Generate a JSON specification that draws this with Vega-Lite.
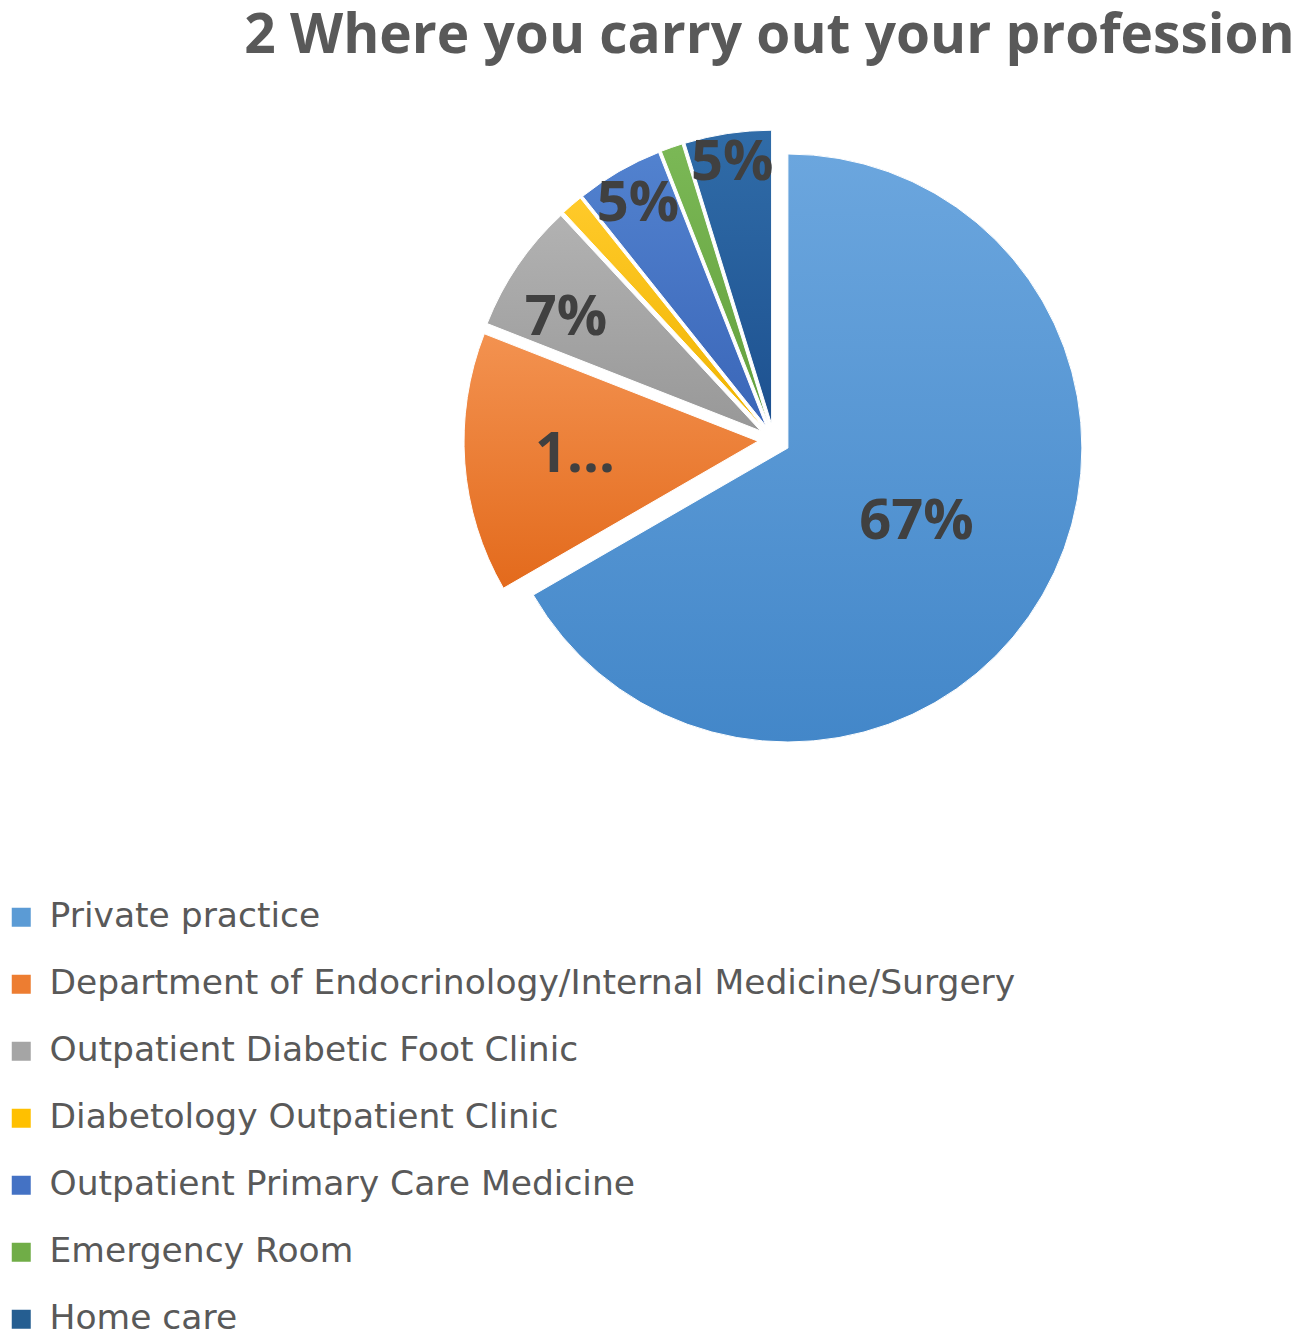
{
  "$schema": "https://vega.github.io/schema/vega-lite/v6.json",
  "autosize": "none",
  "width": 1313,
  "height": 720,
  "padding": {"left": 0, "top": 80, "right": 0, "bottom": 543},
  "background": "white",
  "title": {
    "text": "2 Where you carry out your profession",
    "font": "Open Sans",
    "fontSize": 55,
    "fontWeight": "bold",
    "color": "#595959",
    "anchor": "middle",
    "dx": 113,
    "baseline": "bottom",
    "offset": -40
  },
  "config": {"view": {"stroke": null}},
  "data": {
    "values": [
      {"cat": "Private practice", "n": 56, "rank": 1, "label": "67%"},
      {"cat": "Department of Endocrinology/Internal Medicine/Surgery", "n": 12, "rank": 2, "label": "1..."},
      {"cat": "Outpatient Diabetic Foot Clinic", "n": 6, "rank": 3, "label": "7%"},
      {"cat": "Diabetology Outpatient Clinic", "n": 1, "rank": 4, "label": "1%"},
      {"cat": "Outpatient Primary Care Medicine", "n": 4, "rank": 5, "label": "5%"},
      {"cat": "Emergency Room", "n": 1, "rank": 6, "label": "1%"},
      {"cat": "Home care", "n": 4, "rank": 7, "label": "5%"}
    ]
  },
  "encoding": {
    "theta": {"field": "n", "type": "quantitative", "stack": true},
    "order": {"field": "rank", "type": "quantitative"},
    "detail": {"field": "cat", "type": "nominal"}
  },
  "layer": [
    {
      "mark": {"type": "arc", "outerRadius": 294, "opacity": 0, "xOffset": 117.5},
      "encoding": {
        "color": {
          "field": "cat",
          "type": "nominal",
          "scale": {
            "domain": ["Private practice", "Department of Endocrinology/Internal Medicine/Surgery", "Outpatient Diabetic Foot Clinic", "Diabetology Outpatient Clinic", "Outpatient Primary Care Medicine", "Emergency Room", "Home care"],
            "range": ["#5B9BD5", "#ED7D31", "#A5A5A5", "#FFC000", "#4472C4", "#70AD47", "#255E91"]
          },
          "legend": {
            "title": null,
            "orient": "none",
            "legendX": 4,
            "legendY": 820,
            "symbolType": "square",
            "symbolSize": 361,
            "symbolOpacity": 1,
            "symbolStrokeWidth": 0,
            "labelFont": "DejaVu Sans",
            "labelFontSize": 34.5,
            "labelColor": "#595959",
            "labelOffset": 11,
            "labelLimit": 1300,
            "rowPadding": 32,
            "padding": 0,
            "offset": 0
          }
        }
      }
    },
    {
      "mark": {"type": "arc", "outerRadius": 294, "stroke": "white", "strokeWidth": 1, "xOffset": 131.4, "yOffset": 8.0,
        "fill": {"gradient": "linear", "x1": 0, "y1": 0, "x2": 0, "y2": 1, "stops": [{"offset": 0, "color": "#6ba6de"}, {"offset": 1, "color": "#4387c9"}]}},
      "encoding": {"opacity": {"condition": {"test": "datum.cat === 'Private practice'", "value": 1}, "value": 0}}
    },
    {
      "mark": {"type": "arc", "outerRadius": 294, "stroke": "white", "strokeWidth": 1, "xOffset": 101.5, "yOffset": 1.2,
        "fill": {"gradient": "linear", "x1": 0, "y1": 0, "x2": 0, "y2": 1, "stops": [{"offset": 0, "color": "#f39250"}, {"offset": 1, "color": "#e36a1c"}]}},
      "encoding": {"opacity": {"condition": {"test": "datum.rank === 2", "value": 1}, "value": 0}}
    },
    {
      "mark": {"type": "arc", "outerRadius": 294, "stroke": "white", "strokeWidth": 1, "xOffset": 104.3, "yOffset": -9.0,
        "fill": {"gradient": "linear", "x1": 0, "y1": 0, "x2": 0, "y2": 1, "stops": [{"offset": 0, "color": "#b2b2b2"}, {"offset": 1, "color": "#989898"}]}},
      "encoding": {"opacity": {"condition": {"test": "datum.rank === 3", "value": 1}, "value": 0}}
    },
    {
      "mark": {"type": "arc", "outerRadius": 294, "stroke": "white", "strokeWidth": 1, "xOffset": 107.1, "yOffset": -12.1,
        "fill": {"gradient": "linear", "x1": 0, "y1": 0, "x2": 0, "y2": 1, "stops": [{"offset": 0, "color": "#ffca2a"}, {"offset": 1, "color": "#f0b400"}]}},
      "encoding": {"opacity": {"condition": {"test": "datum.rank === 4", "value": 1}, "value": 0}}
    },
    {
      "mark": {"type": "arc", "outerRadius": 294, "stroke": "white", "strokeWidth": 1, "xOffset": 109.5, "yOffset": -13.9,
        "fill": {"gradient": "linear", "x1": 0, "y1": 0, "x2": 0, "y2": 1, "stops": [{"offset": 0, "color": "#5282cf"}, {"offset": 1, "color": "#3a66b8"}]}},
      "encoding": {"opacity": {"condition": {"test": "datum.rank === 5", "value": 1}, "value": 0}}
    },
    {
      "mark": {"type": "arc", "outerRadius": 294, "stroke": "white", "strokeWidth": 1, "xOffset": 112.2, "yOffset": -15.1,
        "fill": {"gradient": "linear", "x1": 0, "y1": 0, "x2": 0, "y2": 1, "stops": [{"offset": 0, "color": "#7bb856"}, {"offset": 1, "color": "#62a03c"}]}},
      "encoding": {"opacity": {"condition": {"test": "datum.rank === 6", "value": 1}, "value": 0}}
    },
    {
      "mark": {"type": "arc", "outerRadius": 294, "stroke": "white", "strokeWidth": 1, "xOffset": 115.1, "yOffset": -15.8,
        "fill": {"gradient": "linear", "x1": 0, "y1": 0, "x2": 0, "y2": 1, "stops": [{"offset": 0, "color": "#306ca8"}, {"offset": 1, "color": "#1d5190"}]}},
      "encoding": {"opacity": {"condition": {"test": "datum.rank === 7", "value": 1}, "value": 0}}
    },
    {
      "mark": {"type": "text", "radius": 148.5, "xOffset": 131.4, "yOffset": 8.0, "font": "Open Sans", "fontSize": 56, "fontWeight": "bold", "fill": "#404040", "align": "center", "baseline": "middle"},
      "encoding": {"text": {"field": "label"}, "opacity": {"condition": {"test": "datum.rank === 1", "value": 1}, "value": 0}}
    },
    {
      "mark": {"type": "text", "radius": 183.5, "xOffset": 101.5, "yOffset": 1.2, "font": "Open Sans", "fontSize": 56, "fontWeight": "bold", "fill": "#404040", "align": "center", "baseline": "middle"},
      "encoding": {"text": {"field": "label"}, "opacity": {"condition": {"test": "datum.rank === 2", "value": 1}, "value": 0}}
    },
    {
      "mark": {"type": "text", "radius": 225, "xOffset": 104.3, "yOffset": -9.0, "dx": -9, "dy": 14, "font": "Open Sans", "fontSize": 56, "fontWeight": "bold", "fill": "#404040", "align": "center", "baseline": "middle"},
      "encoding": {"text": {"field": "label"}, "opacity": {"condition": {"test": "datum.rank === 3", "value": 1}, "value": 0}}
    },
    {
      "mark": {"type": "text", "radius": 256, "xOffset": 109.5, "yOffset": -13.9, "font": "Open Sans", "fontSize": 56, "fontWeight": "bold", "fill": "#404040", "align": "center", "baseline": "middle"},
      "encoding": {"text": {"field": "label"}, "opacity": {"condition": {"test": "datum.rank === 5", "value": 1}, "value": 0}}
    },
    {
      "mark": {"type": "text", "radius": 264, "xOffset": 115.1, "yOffset": -15.8, "font": "Open Sans", "fontSize": 56, "fontWeight": "bold", "fill": "#404040", "align": "center", "baseline": "middle"},
      "encoding": {"text": {"field": "label"}, "opacity": {"condition": {"test": "datum.rank === 7", "value": 1}, "value": 0}}
    }
  ]
}
